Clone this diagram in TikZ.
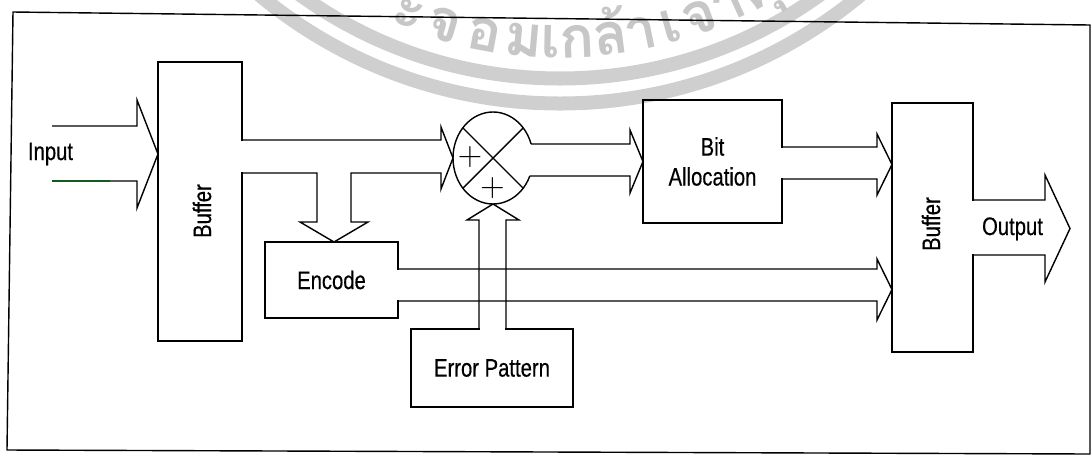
\documentclass[tikz,border=0pt]{standalone}
\usepackage{fontspec}
\newfontfamily\blockfont[FakeStretch=0.8, FakeBold=0.4]{Liberation Sans}
\newfontfamily\sealfont[Script=Thai]{Loma}
\usetikzlibrary{shapes.geometric}
\definecolor{scanfringe}{RGB}{20,90,30}
\begin{document}
\begin{tikzpicture}[x=0.025cm, y=-0.025cm,
  every node/.style={inner sep=0pt, outer sep=0pt},
  block/.style={draw, line width=1pt, align=center,
    font=\blockfont\fontsize{18}{21.3}\selectfont},
  caption/.style={font=\blockfont\fontsize{18}{21.3}\selectfont},
  sign/.style={font=\fontsize{24}{24}\selectfont},
  fat/.style={draw, line width=1pt, line join=miter},
  mouth/.style={fill=white},
  ring/.style={draw=black!19, line width=0.35cm},
  seal/.style={text=black!22, font=\sealfont\bfseries\fontsize{41}{41}\selectfont, anchor=base}]

\useasboundingbox (0,0) rectangle (1092,456);

% faint seal printed behind the page
\begin{scope}
  \clip (0,0) rectangle (1092,456);
  \coordinate (seal) at (560,-367);
  \draw[ring] (seal) circle[radius=445.5];
  \draw[ring] (seal) circle[radius=470.5];
  \foreach \a/\g [count=\i] in {111.7/ะ, 106.4/จ, 100.6/อ, 95.1/ม,
      91.3/เ, 87.6/ก, 82.8/ล้, 78.5/า, 74.3/เ, 70.0/จ้, 65.7/า, 60.7/คุ}
    \path (seal) ++(\a:425) node[seal, rotate=90-\a] (sealch\i) {\g};
\end{scope}

% page frame
\draw[line width=1pt] (13,12) -- (1090,25) -- (1090,454) -- (7,450) -- cycle;

% blocks
\node[block, minimum width=2.1cm, minimum height=6.975cm] (buf1) at (200,201.5) {};
\node[caption, rotate=90] (buf1txt) at (202,211) {Buffer};
\node[block, minimum width=3.325cm, minimum height=1.9cm] (enc) at (331.5,280) {Encode};
\node[ellipse, minimum width=2cm, minimum height=2.3cm] (sum) at (493,158) {};
\node[block, minimum width=3.475cm, minimum height=3.075cm] (bit) at (712.5,161.5) {Bit\\Allocation};
\node[block, minimum width=4.05cm, minimum height=1.95cm] (err) at (492,368) {Error Pattern};
\node[block, minimum width=2.025cm, minimum height=6.225cm] (buf2) at (932.5,227.5) {};
\node[caption, rotate=90] (buf2txt) at (931,224) {Buffer};
\node[caption, anchor=base] (inlbl) at (50.5,160) {Input};
\node[caption, anchor=base] (outlbl) at (1012.5,235) {Output};

% adder: ellipse open on the right where the output leaves
\path (sum.center) ++(-17.7:40 and 46) coordinate (sumNE);
\path (sum.center) ++(23:40 and 46) coordinate (sumSE);
\draw[fat] (sumSE) arc[start angle=23, end angle=342.3, x radius=40, y radius=46];
\draw[fat] (sum.45) -- (sum.225) (sum.135) -- (sum.315);
\node[sign] (plusL) at (470,157.5) {+};
\node[sign] (plusB) at (492.5,188) {+};

% openings where the wide arrows leave the blocks
\fill[mouth] (240.5,141) rectangle (243.5,172);
\fill[mouth] (396.5,270) rectangle (399.5,300);
\fill[mouth] (780.5,148) rectangle (783.5,178);
\fill[mouth] (480,327.5) rectangle (505,330.5);
\fill[mouth] (971.5,201) rectangle (974.5,254);

% wide arrows
\coordinate (inTop) at (52,126);
\coordinate (inBot) at (52,181);
\coordinate (inBotMid) at (110,181);
\draw[fat] (inTop) -- (137,126) -- (137,100) -- (buf1.west |- 0,154)
  -- (137,208) -- (137,181) -- (inBot);
\draw[line width=1pt, scanfringe] (inBot) -- (inBotMid);

\draw[fat] (buf1.east |- 0,140) -- (441,140) -- (441,127) -- (sum.west)
  -- (441,189) -- (441,173) -- (351,173) -- (351,222) -- (368,222)
  -- (enc.north -| 334,0) -- (300,222) -- (317,222) -- (317,173)
  -- (buf1.east |- 0,173);

\draw[fat] (sumNE) -- (630,144) -- (630,130) -- (bit.west |- 0,161.5)
  -- (630,193) -- (630,176) -- (sumSE);

\draw[fat] (bit.east |- 0,147) -- (877,147) -- (877,134) -- (buf2.west |- 0,164.5)
  -- (877,195) -- (877,179) -- (bit.east |- 0,179);

\draw[fat] (enc.east |- 0,269) -- (877,269) -- (877,259) -- (buf2.west |- 0,289.5)
  -- (877,320) -- (877,301) -- (enc.east |- 0,301);

\draw[fat] (err.north -| 479,0) -- (479,220) -- (467,220) -- (sum.south)
  -- (519,220) -- (506,220) -- (err.north -| 506,0);

\coordinate (outTip) at (1070,228.5);
\draw[fat] (buf2.east |- 0,200) -- (1045,200) -- (1045,175) -- (outTip)
  -- (1045,282) -- (1045,255) -- (buf2.east |- 0,255);
\end{tikzpicture}
\end{document}
